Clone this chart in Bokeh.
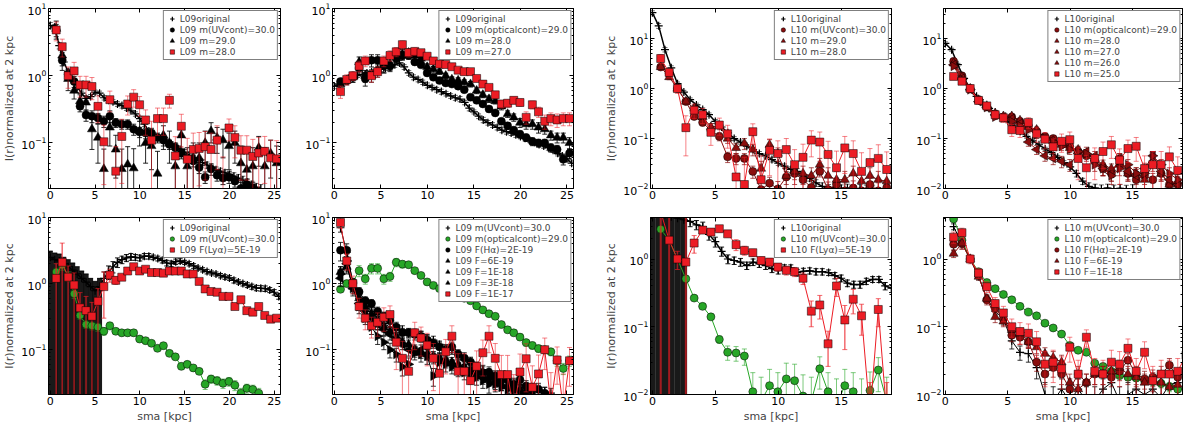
import numpy as np
from bokeh.layouts import column, row
from bokeh.models import Range1d, FixedTicker, LinearAxis, LogAxis, Legend, LegendItem
from bokeh.plotting import figure
from bokeh.embed import file_html
from bokeh.resources import INLINE

# radii of the binned profiles [kpc]
R = [0.66, 1.33, 1.99, 2.66, 3.32, 3.99, 4.65, 5.32, 5.98, 6.65, 7.31, 7.98, 8.64, 9.31,
     9.97, 10.64, 11.3, 11.97, 12.63, 13.3, 13.96, 14.63, 15.29, 15.96, 16.62, 17.29,
     17.95, 18.62, 19.28, 19.95, 20.61, 21.28, 21.94, 22.61, 23.27, 23.94, 24.6, 25.27]
# radii of the "original" profiles [kpc]
RO = [0.0, 0.5, 1.0, 1.5, 2.0, 2.5, 3.0, 3.5, 4.0, 4.5, 5.0, 5.5, 6.0, 6.5, 7.0, 7.5, 8.0,
      8.5, 9.0, 9.5, 10.0, 10.5, 11.0, 11.5, 12.0, 12.5, 13.0, 13.5, 14.0, 14.5, 15.0, 15.5,
      16.0, 16.5, 17.0, 17.5, 18.0, 18.5, 19.0, 19.5, 20.0, 20.5, 21.0, 21.5, 22.0, 22.5,
      23.0, 23.5, 24.0, 24.5, 25.0, 25.5]

# ---- L09, UV continuum
L09_UV_orig = [5.6, 5.3, 2.8, 1.6, 1.15, 0.88, 0.68, 0.55, 0.46, 0.49, 0.57, 0.55, 0.47, 0.43,
               0.41, 0.38, 0.36, 0.33, 0.3, 0.27, 0.23, 0.19, 0.15, 0.13, 0.12, 0.115, 0.105,
               0.097, 0.09, 0.08, 0.073, 0.066, 0.06, 0.055, 0.051, 0.047, 0.043, 0.04, 0.038,
               0.036, 0.034, 0.032, 0.03, 0.028, 0.026, 0.024, 0.022, 0.021]
L09_UV_orig_err = [0.6, 0.5, 0.3, 0.15, 0.1, 0.07, 0.05, 0.04, 0.035, 0.035, 0.04, 0.04, 0.035,
                   0.03, 0.03, 0.03, 0.03, 0.025, 0.02, 0.02, 0.02, 0.015, 0.012, 0.01, 0.01,
                   0.01, 0.009, 0.008, 0.008, 0.007, 0.007, 0.006, 0.006, 0.005, 0.005, 0.005,
                   0.004, 0.004, 0.004, 0.004, 0.004, 0.004, 0.004, 0.004, 0.003, 0.003, 0.003,
                   0.003]
L09_UV_m30 = [4.8, 1.7, 1.05, 0.82, 0.35, 0.26, 0.25, 0.235, 0.21, 0.25, 0.2, 0.19, 0.19, 0.16,
              0.145, 0.14, 0.14, 0.12, 0.11, 0.095, 0.085, 0.07, 0.057, 0.054, 0.043, 0.031,
              0.041, 0.033, 0.03, 0.031, 0.027, 0.021, 0.024, 0.021]
L09_UV_m30_err = [1.0, 0.5, 0.2, 0.15, 0.06, 0.05, 0.05, 0.04, 0.04, 0.05, 0.03, 0.03, 0.03,
                  0.03, 0.025, 0.025, 0.025, 0.02, 0.02, 0.015, 0.015, 0.012, 0.01, 0.01, 0.008,
                  0.006, 0.008, 0.006, 0.006, 0.006, 0.005, 0.005, 0.005, 0.005]
L09_UV_m29 = [5.0, 2.0, 0.9, 0.6, 0.42, 0.4, 0.16, 0.12, 0.041, 0.17, 0.08, 0.041, 0.048, 0.042,
              0.15, 0.1, 0.09, 0.035, 0.13, 0.1, 0.045, 0.13, 0.045, 0.06, 0.06, 0.1, 0.15,
              0.12, 0.11, 0.09, 0.1, 0.05, 0.04, 0.045, 0.085, 0.045, 0.07, 0.05]
L09_UV_m29_err = [1.5, 0.6, 0.3, 0.15, 0.1, 0.1, 0.08, 0.07, 0.04, 0.08, 0.05, 0.04, 0.04, 0.04,
                  0.06, 0.05, 0.05, 0.04, 0.05, 0.05, 0.04, 0.05, 0.04, 0.04, 0.04, 0.05, 0.05,
                  0.05, 0.05, 0.05, 0.05, 0.04, 0.04, 0.04, 0.04, 0.04, 0.04, 0.04]
L09_UV_m28 = [4.8, 2.7, 1.0, 1.18, 0.73, 0.73, 0.69, 0.35, 0.104, 0.44, 0.038, 0.125, 0.38,
              0.48, 0.37, 0.22, 0.11, 0.23, 0.23, 0.43, 0.064, 0.177, 0.057, 0.08, 0.083, 0.088,
              0.08, 0.11, 0.012, 0.167, 0.12, 0.078, 0.078, 0.063, 0.071, 0.075, 0.06, 0.058]
L09_UV_m28_err = [1.5, 0.8, 0.35, 0.4, 0.25, 0.25, 0.25, 0.15, 0.08, 0.15, 0.05, 0.1, 0.12, 0.14,
                  0.12, 0.09, 0.1, 0.1, 0.1, 0.1, 0.06, 0.09, 0.06, 0.06, 0.06, 0.06, 0.06, 0.07,
                  0.05, 0.06, 0.06, 0.05, 0.05, 0.05, 0.05, 0.05, 0.05, 0.05]

# ---- L09, optical continuum
L09_OPT_orig = [0.7, 0.75, 0.85, 0.92, 1.0, 1.02, 1.05, 1.1, 1.15, 1.2, 1.25, 1.3, 1.35, 1.45,
                1.55, 1.35, 1.1, 0.95, 0.88, 0.8, 0.72, 0.67, 0.62, 0.58, 0.54, 0.5, 0.47, 0.45,
                0.4, 0.33, 0.29, 0.25, 0.22, 0.2, 0.185, 0.17, 0.155, 0.147, 0.14, 0.132, 0.125,
                0.117, 0.11, 0.102, 0.095, 0.09, 0.085, 0.078, 0.07, 0.064, 0.058, 0.05]
L09_OPT_orig_err = [0.06, 0.06, 0.07, 0.07, 0.08, 0.08, 0.08, 0.09, 0.09, 0.1, 0.1, 0.1, 0.11,
                    0.12, 0.13, 0.11, 0.09, 0.08, 0.07, 0.06, 0.06, 0.05, 0.05, 0.05, 0.04, 0.04,
                    0.04, 0.04, 0.03, 0.03, 0.02, 0.02, 0.02, 0.016, 0.015, 0.014, 0.013, 0.012,
                    0.011, 0.011, 0.01, 0.01, 0.009, 0.008, 0.008, 0.007, 0.007, 0.006, 0.006,
                    0.005, 0.005, 0.004]
L09_OPT_m29 = [0.82, 0.85, 0.95, 1.3, 0.9, 1.7, 1.7, 1.4, 1.4, 1.8, 2.0, 2.0, 1.6, 1.45, 1.1,
               0.95, 0.85, 0.78, 0.75, 0.7, 0.62, 0.48, 0.43, 0.38, 0.32, 0.28, 0.21, 0.18, 0.155,
               0.135, 0.12, 0.105, 0.1, 0.1, 0.085, 0.08, 0.057, 0.07]
L09_OPT_m29_err = [0.08, 0.1, 0.15, 0.3, 0.2, 0.35, 0.35, 0.3, 0.25, 0.3, 0.3, 0.25, 0.15, 0.12,
                   0.1, 0.08, 0.07, 0.06, 0.06, 0.05, 0.05, 0.04, 0.04, 0.03, 0.03, 0.025, 0.02,
                   0.02, 0.018, 0.016, 0.015, 0.014, 0.013, 0.013, 0.012, 0.012, 0.01, 0.012]
L09_OPT_m28 = [0.75, 0.85, 0.95, 1.6, 1.0, 1.0, 1.2, 1.4, 1.5, 2.0, 2.1, 2.2, 2.0, 1.8, 1.35,
               1.25, 1.15, 1.0, 0.88, 0.85, 0.8, 0.75, 0.6, 0.52, 0.45, 0.42, 0.35, 0.27, 0.24,
               0.2, 0.19, 0.19, 0.17, 0.16, 0.13, 0.12, 0.12, 0.1]
L09_OPT_m28_err = [0.1, 0.12, 0.15, 0.3, 0.2, 0.2, 0.25, 0.3, 0.3, 0.35, 0.35, 0.3, 0.25, 0.2,
                   0.15, 0.12, 0.1, 0.09, 0.08, 0.08, 0.07, 0.07, 0.06, 0.05, 0.05, 0.04, 0.04,
                   0.03, 0.03, 0.03, 0.03, 0.03, 0.03, 0.025, 0.02, 0.02, 0.02, 0.02]
L09_OPT_m27 = [0.58, 0.88, 1.0, 1.39, 1.66, 1.0, 1.15, 1.66, 2.0, 2.27, 2.9, 2.2, 2.3, 2.2, 1.95,
               1.66, 1.49, 1.47, 1.36, 1.21, 1.15, 1.15, 0.91, 0.75, 0.67, 0.52, 0.38, 0.39,
               0.43, 0.4, 0.24, 0.37, 0.29, 0.21, 0.23, 0.22, 0.23, 0.23]
L09_OPT_m27_err = [0.12, 0.15, 0.15, 0.25, 0.3, 0.2, 0.2, 0.3, 0.35, 0.35, 0.4, 0.3, 0.3, 0.25,
                   0.22, 0.18, 0.15, 0.13, 0.12, 0.1, 0.1, 0.1, 0.08, 0.07, 0.06, 0.06, 0.05,
                   0.05, 0.05, 0.05, 0.05, 0.05, 0.05, 0.05, 0.05, 0.05, 0.05, 0.05]

# ---- L10, UV continuum
L10_UV_orig = [33.0, 18.0, 6.0, 2.6, 1.25, 0.85, 0.6, 0.47, 0.38, 0.3, 0.22, 0.17, 0.13, 0.1,
               0.085, 0.07, 0.06, 0.05, 0.045, 0.038, 0.032, 0.028, 0.024, 0.022, 0.018, 0.016,
               0.013, 0.011, 0.01, 0.0105, 0.0098, 0.0102, 0.0095, 0.01, 0.0097, 0.0093]
L10_UV_orig_err = [3.0, 2.0, 0.6, 0.25, 0.1, 0.07, 0.05, 0.04, 0.03, 0.025, 0.02, 0.015, 0.012,
                   0.009, 0.008, 0.006, 0.005, 0.005, 0.004, 0.004, 0.003, 0.003, 0.003, 0.003,
                   0.002, 0.002, 0.002, 0.002, 0.002, 0.002, 0.002, 0.002, 0.002, 0.002, 0.002,
                   0.002]
L10_UV_m30 = [2.7, 2.0, 1.0, 0.55, 0.276, 0.21, 0.144, 0.11, 0.043, 0.04, 0.04, 0.022, 0.0095,
              0.0128, 0.0098, 0.017, 0.02, 0.015, 0.0105, 0.022, 0.0095, 0.012, 0.009, 0.0102,
              0.009, 0.012, 0.009, 0.0105]
L10_UV_m30_err = [0.3, 0.2, 0.1, 0.06, 0.03, 0.03, 0.02, 0.02, 0.01, 0.01, 0.01, 0.006, 0.004,
                  0.004, 0.004, 0.005, 0.005, 0.005, 0.004, 0.005, 0.004, 0.004, 0.004, 0.004,
                  0.004, 0.004, 0.004, 0.004]
L10_UV_m29 = [2.7, 1.7, 1.0, 0.55, 0.4, 0.27, 0.17, 0.18, 0.1, 0.065, 0.08, 0.06, 0.025, 0.075,
              0.05, 0.018, 0.022, 0.02, 0.018, 0.03, 0.018, 0.015, 0.015, 0.02, 0.014, 0.018,
              0.015, 0.014]
L10_UV_m29_err = [0.3, 0.2, 0.1, 0.07, 0.05, 0.04, 0.03, 0.03, 0.02, 0.015, 0.02, 0.015, 0.01,
                  0.02, 0.015, 0.008, 0.01, 0.008, 0.008, 0.01, 0.008, 0.007, 0.007, 0.008,
                  0.007, 0.008, 0.007, 0.007]
L10_UV_m28 = [4.0, 2.1, 1.0, 0.165, 0.37, 0.3, 0.133, 0.186, 0.124, 0.017, 0.012, 0.137, 0.015,
              0.058, 0.05, 0.06, 0.03, 0.042, 0.093, 0.085, 0.048, 0.026, 0.065, 0.05, 0.022,
              0.033, 0.04, 0.024]
L10_UV_m28_err = [0.8, 0.4, 0.2, 0.12, 0.12, 0.1, 0.06, 0.07, 0.06, 0.03, 0.03, 0.06, 0.03, 0.04,
                  0.04, 0.04, 0.03, 0.035, 0.05, 0.05, 0.04, 0.03, 0.045, 0.04, 0.03, 0.03,
                  0.035, 0.03]

# ---- L10, optical continuum
L10_OPT_orig = [8.0, 6.0, 3.0, 1.6, 1.0, 0.7, 0.5, 0.4, 0.33, 0.27, 0.22, 0.18, 0.14, 0.11,
                0.09, 0.075, 0.062, 0.052, 0.042, 0.033, 0.027, 0.02, 0.014, 0.011, 0.0102,
                0.0098, 0.0102, 0.0097, 0.0101, 0.0096, 0.0099]
L10_OPT_orig_err = [0.6, 0.4, 0.2, 0.1, 0.06, 0.04, 0.03, 0.025, 0.02, 0.017, 0.014, 0.012,
                    0.01, 0.008, 0.007, 0.006, 0.005, 0.004, 0.004, 0.003, 0.003, 0.003, 0.002,
                    0.002, 0.002, 0.002, 0.002, 0.002, 0.002, 0.002, 0.002]
L10_OPT_m29 = [3.5, 1.8, 1.0, 0.6, 0.43, 0.3, 0.27, 0.27, 0.22, 0.18, 0.14, 0.11, 0.1, 0.08,
               0.07, 0.055, 0.045, 0.035, 0.025, 0.02, 0.04, 0.02, 0.015, 0.018, 0.015, 0.02,
               0.012, 0.012]
L10_OPT_m29_err = [0.3, 0.15, 0.08, 0.05, 0.04, 0.03, 0.03, 0.03, 0.025, 0.02, 0.02, 0.015,
                   0.015, 0.012, 0.012, 0.01, 0.01, 0.008, 0.007, 0.006, 0.01, 0.006, 0.005,
                   0.006, 0.005, 0.006, 0.005, 0.005]
L10_OPT_m28 = [3.2, 1.7, 1.0, 0.58, 0.45, 0.32, 0.28, 0.28, 0.23, 0.17, 0.15, 0.1, 0.09, 0.075,
               0.065, 0.06, 0.05, 0.04, 0.03, 0.025, 0.03, 0.02, 0.02, 0.015, 0.03, 0.02, 0.012,
               0.014]
L10_OPT_m28_err = [0.3, 0.15, 0.08, 0.05, 0.04, 0.03, 0.03, 0.03, 0.025, 0.02, 0.02, 0.015,
                   0.015, 0.012, 0.012, 0.01, 0.01, 0.008, 0.007, 0.006, 0.008, 0.006, 0.006,
                   0.005, 0.008, 0.006, 0.005, 0.005]
L10_OPT_m27 = [3.0, 1.6, 0.95, 0.55, 0.42, 0.3, 0.27, 0.25, 0.2, 0.085, 0.06, 0.045, 0.04,
               0.035, 0.03, 0.05, 0.055, 0.045, 0.025, 0.02, 0.04, 0.022, 0.018, 0.025, 0.045,
               0.022, 0.015, 0.012]
L10_OPT_m27_err = [0.3, 0.15, 0.08, 0.05, 0.04, 0.03, 0.03, 0.03, 0.025, 0.015, 0.012, 0.01,
                   0.01, 0.009, 0.008, 0.01, 0.012, 0.01, 0.007, 0.006, 0.01, 0.007, 0.006,
                   0.007, 0.01, 0.007, 0.005, 0.005]
L10_OPT_m26 = [2.8, 1.5, 0.95, 0.6, 0.42, 0.27, 0.26, 0.22, 0.18, 0.15, 0.12, 0.1, 0.085, 0.07,
               0.06, 0.055, 0.05, 0.03, 0.025, 0.018, 0.025, 0.03, 0.02, 0.02, 0.045, 0.03,
               0.02, 0.015]
L10_OPT_m26_err = [0.3, 0.15, 0.08, 0.05, 0.04, 0.03, 0.03, 0.03, 0.025, 0.02, 0.02, 0.015,
                   0.015, 0.012, 0.012, 0.01, 0.01, 0.008, 0.007, 0.006, 0.007, 0.008, 0.006,
                   0.006, 0.01, 0.008, 0.006, 0.005]
L10_OPT_m25 = [1.75, 1.4, 1.0, 0.58, 0.45, 0.3, 0.26, 0.15, 0.145, 0.21, 0.124, 0.097, 0.068,
               0.088, 0.095, 0.04, 0.026, 0.04, 0.055, 0.075, 0.037, 0.063, 0.07, 0.025, 0.03,
               0.03, 0.043, 0.023]
L10_OPT_m25_err = [0.2, 0.15, 0.1, 0.08, 0.06, 0.05, 0.05, 0.04, 0.04, 0.05, 0.04, 0.035, 0.03,
                   0.035, 0.04, 0.025, 0.02, 0.025, 0.03, 0.035, 0.025, 0.03, 0.035, 0.02, 0.025,
                   0.025, 0.025, 0.02]

# ---- L09, Lyman alpha
L09_LYA_orig = [2.5, 2.3, 2.2, 2.0, 1.8, 1.6, 1.4, 1.2, 1.05, 0.9, 0.78, 0.9, 1.2, 1.5, 1.8,
                2.1, 2.3, 2.45, 2.55, 2.5, 2.45, 2.6, 2.6, 2.5, 2.4, 2.25, 2.05, 2.0, 2.15, 2.2,
                2.1, 2.0, 1.85, 1.72, 1.62, 1.52, 1.45, 1.4, 1.32, 1.26, 1.22, 1.12, 1.06, 1.0,
                0.95, 0.9, 0.86, 0.85, 0.84, 0.8, 0.74, 0.64]
L09_LYA_orig_err = [0.6, 0.6, 0.6, 0.5, 0.5, 0.45, 0.4, 0.35, 0.35, 0.3, 0.3, 0.3, 0.3, 0.35,
                    0.35, 0.35, 0.3, 0.3, 0.3, 0.25, 0.25, 0.25, 0.25, 0.2, 0.2, 0.2, 0.2, 0.2,
                    0.2, 0.18, 0.15, 0.15, 0.15, 0.12, 0.12, 0.12, 0.1, 0.1, 0.1, 0.1, 0.1, 0.1,
                    0.08, 0.08, 0.08, 0.08, 0.08, 0.08, 0.08, 0.07, 0.07, 0.06]
L09_LYA_orig_err_lo = [9.9, 9.9, 9.9, 9.9, 9.9, 9.9, 9.9, 9.9, 9.9, 9.9, 9.9, 9.9, 0.3, 0.35,
                       0.35, 0.35, 0.3, 0.3, 0.3, 0.25, 0.25, 0.25, 0.25, 0.2, 0.2, 0.2, 0.2,
                       0.2, 0.2, 0.18, 0.15, 0.15, 0.15, 0.12, 0.12, 0.12, 0.1, 0.1, 0.1, 0.1,
                       0.1, 0.1, 0.08, 0.08, 0.08, 0.08, 0.08, 0.08, 0.08, 0.07, 0.07, 0.06]
L09_LYA_m30 = [1.5, 1.9, 1.3, 0.7, 0.33, 0.24, 0.23, 0.22, 0.19, 0.23, 0.19, 0.18, 0.18, 0.18,
               0.145, 0.137, 0.125, 0.105, 0.115, 0.088, 0.078, 0.056, 0.06, 0.053, 0.047, 0.03,
               0.036, 0.034, 0.031, 0.033, 0.029, 0.022, 0.026, 0.025, 0.022]
L09_LYA_m30_err = [0.2, 0.3, 0.2, 0.1, 0.04, 0.03, 0.03, 0.03, 0.025, 0.03, 0.02, 0.02, 0.02,
                   0.02, 0.015, 0.015, 0.012, 0.01, 0.012, 0.008, 0.008, 0.006, 0.006, 0.006,
                   0.005, 0.005, 0.005, 0.005, 0.005, 0.005, 0.005, 0.004, 0.004, 0.004, 0.004]
L09_LYA_f = [1.2, 2.1, 1.25, 0.95, 0.43, 0.39, 0.32, 0.54, 0.9, 1.35, 1.12, 1.25, 1.55, 1.8,
             1.55, 1.65, 1.47, 1.47, 1.44, 1.55, 1.55, 1.55, 1.4, 1.4, 1.08, 0.83, 0.76, 0.74,
             0.64, 0.64, 0.45, 0.57, 0.39, 0.37, 0.45, 0.33, 0.29, 0.3]
L09_LYA_f_err = [0.8, 2.0, 0.6, 0.5, 0.3, 0.25, 0.2, 0.3, 0.6, 0.3, 0.15, 0.1, 0.1, 0.1, 0.08,
                 0.08, 0.07, 0.07, 0.07, 0.07, 0.07, 0.07, 0.06, 0.06, 0.05, 0.04, 0.04, 0.03,
                 0.03, 0.03, 0.03, 0.03, 0.02, 0.02, 0.02, 0.02, 0.02, 0.02]
L09_LYA_f_err_lo = [9.9, 9.9, 9.9, 9.9, 9.9, 9.9, 9.9, 9.9, 0.6, 0.3, 0.15, 0.1, 0.1, 0.1, 0.08,
                    0.08, 0.07, 0.07, 0.07, 0.07, 0.07, 0.07, 0.06, 0.06, 0.05, 0.04, 0.04, 0.03,
                    0.03, 0.03, 0.03, 0.03, 0.02, 0.02, 0.02, 0.02, 0.02, 0.02]

# ---- L09, H alpha
L09_HA_uv30 = [7.0, 3.0, 1.0, 0.6, 0.45, 0.38, 0.3, 0.25, 0.22, 0.2, 0.2, 0.18, 0.18, 0.17, 0.15,
               0.14, 0.12, 0.1, 0.1, 0.085, 0.07, 0.065, 0.055, 0.05, 0.045, 0.04, 0.035, 0.035,
               0.03, 0.03, 0.027, 0.025, 0.025, 0.023, 0.022]
L09_HA_uv30_err = [1.0, 0.5, 0.15, 0.08, 0.06, 0.05, 0.04, 0.035, 0.03, 0.03, 0.03, 0.025, 0.025,
                   0.02, 0.02, 0.02, 0.015, 0.015, 0.015, 0.012, 0.01, 0.01, 0.008, 0.008,
                   0.007, 0.006, 0.006, 0.006, 0.005, 0.005, 0.005, 0.005, 0.004, 0.004, 0.004]
L09_HA_opt29 = [0.82, 1.0, 1.05, 1.57, 1.18, 1.7, 1.7, 1.18, 1.28, 2.1, 1.97, 1.93, 1.57, 1.33,
                1.06, 0.94, 0.84, 0.78, 0.71, 0.65, 0.6, 0.55, 0.46, 0.4, 0.35, 0.32, 0.24, 0.2,
                0.18, 0.155, 0.128, 0.116, 0.104, 0.1, 0.093, 0.068, 0.052, 0.068]
L09_HA_opt29_err = [0.08, 0.1, 0.12, 0.3, 0.2, 0.3, 0.3, 0.2, 0.2, 0.3, 0.25, 0.2, 0.15, 0.12,
                    0.1, 0.08, 0.07, 0.06, 0.06, 0.05, 0.05, 0.04, 0.04, 0.03, 0.03, 0.025, 0.02,
                    0.02, 0.018, 0.016, 0.015, 0.014, 0.013, 0.013, 0.012, 0.012, 0.01, 0.012]
L09_HA_f2 = [3.2, 3.2, 1.0, 0.75, 0.55, 0.5, 0.38, 0.32, 0.28, 0.22, 0.18, 0.18, 0.17, 0.16,
             0.14, 0.125, 0.11, 0.1, 0.11, 0.085, 0.075, 0.065, 0.055, 0.045, 0.045, 0.04, 0.035,
             0.035, 0.03, 0.035, 0.028, 0.025, 0.025, 0.022]
L09_HA_f2_err = [1.0, 0.8, 0.2, 0.12, 0.08, 0.07, 0.06, 0.05, 0.04, 0.04, 0.03, 0.03, 0.03,
                 0.03, 0.025, 0.02, 0.02, 0.02, 0.02, 0.015, 0.015, 0.012, 0.01, 0.01, 0.01,
                 0.008, 0.008, 0.008, 0.007, 0.007, 0.006, 0.006, 0.006, 0.005]
L09_HA_f6 = [1.5, 1.8, 0.9, 0.6, 0.45, 0.35, 0.28, 0.22, 0.19, 0.16, 0.13, 0.12, 0.1, 0.09,
             0.085, 0.08, 0.075, 0.07, 0.065, 0.06, 0.055, 0.05, 0.045, 0.04, 0.038, 0.034,
             0.03, 0.028, 0.027, 0.025, 0.024, 0.022]
L09_HA_f6_err = [0.3, 0.4, 0.15, 0.1, 0.07, 0.05, 0.04, 0.035, 0.03, 0.025, 0.02, 0.02, 0.018,
                 0.016, 0.015, 0.014, 0.013, 0.012, 0.011, 0.01, 0.01, 0.009, 0.008, 0.008,
                 0.007, 0.007, 0.006, 0.006, 0.006, 0.005, 0.005, 0.005]
L09_HA_f10 = [1.2, 2.0, 0.85, 0.5, 0.38, 0.3, 0.24, 0.2, 0.17, 0.14, 0.12, 0.1, 0.095, 0.1,
              0.085, 0.075, 0.07, 0.065, 0.06, 0.055, 0.05, 0.045, 0.042, 0.038, 0.035, 0.032,
              0.03, 0.028, 0.025, 0.024, 0.022]
L09_HA_f10_err = [0.3, 0.5, 0.15, 0.1, 0.07, 0.05, 0.04, 0.035, 0.03, 0.025, 0.02, 0.02, 0.018,
                  0.018, 0.015, 0.014, 0.013, 0.012, 0.011, 0.01, 0.01, 0.009, 0.008, 0.008,
                  0.007, 0.007, 0.006, 0.006, 0.006, 0.005, 0.005]
L09_HA_f30 = [1.4, 2.2, 0.85, 0.45, 0.3, 0.22, 0.16, 0.13, 0.1, 0.085, 0.055, 0.06, 0.09, 0.085,
              0.08, 0.04, 0.065, 0.06, 0.055, 0.05, 0.045, 0.04, 0.038, 0.034, 0.03, 0.03,
              0.027, 0.025, 0.024, 0.023]
L09_HA_f30_err = [0.4, 0.6, 0.2, 0.1, 0.06, 0.05, 0.04, 0.03, 0.025, 0.02, 0.015, 0.015, 0.02,
                  0.02, 0.02, 0.012, 0.015, 0.014, 0.012, 0.011, 0.01, 0.01, 0.009, 0.008,
                  0.008, 0.007, 0.007, 0.006, 0.006, 0.006]
L09_HA_f100 = [8.4, 2.2, 1.0, 0.45, 0.3, 0.23, 0.26, 0.31, 0.34, 0.13, 0.074, 0.047, 0.18, 0.15,
               0.117, 0.074, 0.044, 0.093, 0.16, 0.047, 0.047, 0.034, 0.056, 0.09, 0.16, 0.074,
               0.042, 0.042, 0.012, 0.046, 0.073, 0.027, 0.043, 0.1, 0.015, 0.07, 0.013, 0.068]
L09_HA_f100_err = [1.5, 0.6, 0.3, 0.15, 0.1, 0.08, 0.1, 0.12, 0.12, 0.08, 0.06, 0.05, 0.08,
                   0.07, 0.06, 0.05, 0.04, 0.05, 0.07, 0.04, 0.04, 0.03, 0.04, 0.05, 0.07, 0.05,
                   0.04, 0.04, 0.03, 0.04, 0.05, 0.03, 0.04, 0.05, 0.03, 0.04, 0.03, 0.04]

# ---- L10, Lyman alpha
L10_LYA_orig = [6.0, 5.0, 4.5, 4.2, 4.0, 3.8, 3.6, 3.2, 3.0, 2.3, 1.8, 1.3, 1.0, 0.95, 0.9, 0.8,
                0.9, 0.85, 0.8, 0.72, 0.68, 0.74, 0.74, 0.63, 0.66, 0.67, 0.65, 0.65, 0.63,
                0.57, 0.52, 0.44, 0.42, 0.42, 0.47, 0.5, 0.5, 0.4, 0.37]
L10_LYA_orig_err = [20.0, 20.0, 20.0, 20.0, 20.0, 20.0, 0.6, 0.5, 0.5, 0.4, 0.3, 0.2, 0.15,
                    0.12, 0.12, 0.1, 0.1, 0.1, 0.1, 0.09, 0.08, 0.08, 0.08, 0.07, 0.07, 0.07,
                    0.07, 0.07, 0.06, 0.06, 0.06, 0.05, 0.05, 0.05, 0.05, 0.05, 0.05, 0.05, 0.05]
L10_LYA_m30 = [2.76, 1.9, 1.0, 0.51, 0.265, 0.2, 0.14, 0.065, 0.042, 0.041, 0.037, 0.011, 0.008,
               0.0135, 0.011, 0.017, 0.016, 0.0095, 0.008, 0.024, 0.011, 0.007, 0.0135, 0.011,
               0.007, 0.0115, 0.023, 0.008]
L10_LYA_m30_err = [0.2, 0.15, 0.08, 0.04, 0.02, 0.015, 0.012, 0.008, 0.01, 0.01, 0.01, 0.01,
                   0.01, 0.01, 0.01, 0.012, 0.012, 0.01, 0.01, 0.012, 0.01, 0.01, 0.01, 0.01,
                   0.01, 0.01, 0.012, 0.01]
L10_LYA_f = [5.0, 1.9, 1.0, 0.9, 1.72, 2.67, 2.5, 2.8, 2.35, 1.63, 1.34, 1.24, 0.95, 0.9, 0.76,
             0.68, 0.65, 0.52, 0.17, 0.21, 0.056, 0.4, 0.126, 0.255, 0.145, 0.005, 0.18, 0.005]
L10_LYA_f_err = [20.0, 20.0, 0.3, 20.0, 0.5, 0.3, 0.3, 0.3, 0.25, 0.3, 0.2, 0.15, 0.12, 0.12,
                 0.1, 0.1, 0.1, 0.1, 0.07, 0.08, 0.03, 0.12, 0.08, 0.1, 0.07, 0.01, 0.08, 0.01]

# ---- L10, H alpha
L10_HA_uv30 = [3.0, 1.7, 1.0, 0.55, 0.26, 0.17, 0.13, 0.062, 0.042, 0.04, 0.025, 0.01, 0.008,
               0.012, 0.008, 0.012, 0.008, 0.008, 0.012, 0.015, 0.008, 0.01, 0.012, 0.01, 0.012,
               0.009, 0.014, 0.015]
L10_HA_uv30_err = [0.3, 0.2, 0.1, 0.06, 0.03, 0.02, 0.02, 0.015, 0.01, 0.01, 0.008, 0.005,
                   0.005, 0.005, 0.005, 0.005, 0.005, 0.005, 0.005, 0.005, 0.005, 0.005, 0.005,
                   0.005, 0.005, 0.005, 0.005, 0.005]
L10_HA_opt29 = [3.9, 1.9, 1.0, 0.65, 0.45, 0.365, 0.3, 0.25, 0.2, 0.165, 0.145, 0.113, 0.096,
                0.078, 0.053, 0.045, 0.042, 0.029, 0.026, 0.022, 0.019, 0.018, 0.0175, 0.016,
                0.0155, 0.0145, 0.013, 0.012, 0.012]
L10_HA_opt29_err = [0.2, 0.1, 0.05, 0.03, 0.02, 0.015, 0.012, 0.01, 0.008, 0.007, 0.006, 0.005,
                    0.004, 0.004, 0.003, 0.003, 0.003, 0.002, 0.002, 0.002, 0.002, 0.002, 0.002,
                    0.002, 0.002, 0.002, 0.002, 0.002, 0.002]
L10_HA_f2 = [1.65, 1.7, 1.0, 0.58, 0.25, 0.19, 0.13, 0.075, 0.07, 0.06, 0.03, 0.02, 0.025, 0.02,
             0.012, 0.02, 0.015, 0.02, 0.02, 0.018, 0.022, 0.032, 0.02, 0.017, 0.018, 0.02,
             0.027, 0.018]
L10_HA_f2_err = [0.3, 0.3, 0.1, 0.06, 0.04, 0.03, 0.025, 0.015, 0.015, 0.012, 0.008, 0.006,
                 0.007, 0.006, 0.005, 0.006, 0.005, 0.006, 0.006, 0.005, 0.006, 0.008, 0.006,
                 0.005, 0.005, 0.006, 0.007, 0.005]
L10_HA_f6 = [1.2, 1.7, 1.0, 0.55, 0.26, 0.14, 0.12, 0.09, 0.08, 0.06, 0.05, 0.04, 0.035, 0.03,
             0.015, 0.012, 0.015, 0.02, 0.02, 0.022, 0.025, 0.02, 0.018, 0.015, 0.016, 0.015,
             0.013, 0.014]
L10_HA_f6_err = [0.15, 0.3, 0.1, 0.06, 0.04, 0.025, 0.02, 0.015, 0.015, 0.012, 0.01, 0.009,
                 0.008, 0.008, 0.005, 0.005, 0.005, 0.006, 0.006, 0.006, 0.007, 0.006, 0.005,
                 0.005, 0.005, 0.005, 0.005, 0.005]
L10_HA_f10 = [2.1, 2.45, 1.0, 0.62, 0.39, 0.22, 0.16, 0.1, 0.085, 0.08, 0.06, 0.028, 0.03,
              0.024, 0.05, 0.02, 0.07, 0.022, 0.02, 0.03, 0.028, 0.048, 0.022, 0.042, 0.016,
              0.02, 0.02, 0.022, 0.038]
L10_HA_f10_err = [0.4, 0.4, 0.15, 0.1, 0.07, 0.05, 0.04, 0.03, 0.03, 0.03, 0.025, 0.015, 0.015,
                  0.012, 0.02, 0.012, 0.02, 0.012, 0.012, 0.015, 0.015, 0.018, 0.012, 0.018,
                  0.01, 0.012, 0.012, 0.012, 0.015]

BLACK = "black"
RED = "#ec1c24"
DRED = "#8a0d0d"
GREEN = "#27a627"
FONT = "DejaVu Sans"
MINOR = [m * 10.0 ** e for e in range(-3, 2) for m in range(2, 10)]


def make_fig(w, h, borders, xr, yr, xticks, ylabel=None, xlabel=None):
    l, r, t, b = borders
    p = figure(width=w, height=h, y_axis_type="log", x_range=Range1d(*xr),
               y_range=Range1d(*yr), output_backend="svg", toolbar_location=None,
               min_border_left=l, min_border_right=r, min_border_top=t, min_border_bottom=b)
    yt = FixedTicker(ticks=[0.001, 0.01, 0.1, 1, 10, 100], minor_ticks=MINOR)
    xt = FixedTicker(ticks=xticks)
    p.yaxis.ticker = yt
    p.xaxis.ticker = xt
    p.add_layout(LinearAxis(ticker=xt), "above")
    p.add_layout(LogAxis(ticker=yt), "right")
    p.xgrid.grid_line_color = None
    p.ygrid.grid_line_color = None
    p.outline_line_color = "black"
    p.background_fill_color = "white"
    p.border_fill_color = "white"
    for ax in p.axis:
        ax.axis_line_color = "black"
        ax.major_tick_in = 4
        ax.major_tick_out = 0
        ax.minor_tick_in = 2
        ax.minor_tick_out = 0
        ax.major_label_text_font = FONT
        ax.major_label_text_font_size = "11px"
        ax.major_label_text_color = "black"
        ax.major_label_standoff = 2
        ax.axis_label_text_font = FONT
        ax.axis_label_text_font_size = "11px"
        ax.axis_label_text_font_style = "normal"
        ax.axis_label_standoff = 2
    for ax in p.above + p.below:
        ax.minor_tick_line_color = None
    for ax in p.above + p.right:
        ax.major_label_text_font_size = "1px"
        ax.major_label_text_alpha = 0
        ax.major_label_standoff = 0
    if ylabel:
        p.left[0].axis_label = ylabel
    if xlabel:
        p.below[0].axis_label = xlabel
    return p


def series(p, xs, ys, err, marker, color, ecolor, ealpha, size=8, joined=True,
           angle=0.0, err_lo=None, wide=None, lw=1.0):
    x = xs[:len(ys)]
    y = np.asarray(ys, dtype=float)
    e_hi = np.asarray(err, dtype=float)
    e_lo = e_hi if err_lo is None else np.asarray(err_lo, dtype=float)
    lo = np.clip(y - e_lo, 1e-6, None)
    hi = y + e_hi
    # bars that run off the bottom of the panel are drawn broad, like the dense originals
    ew = 1.0 if wide is None else list(np.where(y - e_lo <= 0, wide, 1.5))
    p.segment(x, lo, x, hi, line_color=ecolor, line_alpha=ealpha, line_width=ew)
    p.scatter(x, hi, marker="dash", size=5, line_color=ecolor, line_alpha=ealpha)
    p.scatter(x, lo, marker="dash", size=5, line_color=ecolor, line_alpha=ealpha)
    if joined:
        p.line(x, ys, line_color=color, line_width=lw)
    if marker == "cross":
        m = p.scatter(x, ys, marker="cross", size=size, line_color=color, line_width=1.2)
    else:
        m = p.scatter(x, ys, marker=marker, size=size, angle=angle, fill_color=color,
                      line_color="black", line_width=0.5)
    return [m]


def add_legend(p, items):
    lg = Legend(items=[LegendItem(label=t, renderers=r) for t, r in items],
                location="top_right", label_text_font=FONT, label_text_font_size="9px",
                label_height=9, glyph_height=11, glyph_width=12, spacing=0, padding=2,
                margin=2, label_standoff=2, border_line_color="black",
                border_line_width=1.2, background_fill_color="white",
                background_fill_alpha=1.0)
    p.add_layout(lg)


YLAB = "I(r)normalized at 2 kpc"
XLAB = "sma [kpc]"
X25 = [0, 5, 10, 15, 20, 25]
X19 = [0, 5, 10, 15]
XR25 = (-0.2, 25.7)
XR19 = (-0.15, 19.0)
LEFT = np.pi / 2
RIGHT = -np.pi / 2

# column widths / borders (left, right), row heights / borders (top, bottom)
C = [(302, 38, 22), (290, 27, 19), (310, 58, 11), (282, 41, 2)]
RW = [(205, 8, 17), (220, 12, 30)]


def fig(ci, ri, xr, yr, xticks, ylabel=None, xlabel=None):
    w, l, r = C[ci]
    h, t, b = RW[ri]
    return make_fig(w, h, (l, r, t, b), xr, yr, xticks, ylabel, xlabel)


# panel 1: L09 UV
p1 = fig(0, 0, XR25, (0.021, 10), X25, ylabel=YLAB)
add_legend(p1, [
    ("L09original", series(p1, RO, L09_UV_orig, L09_UV_orig_err, "cross", BLACK, BLACK, 0.6, lw=1.5)),
    ("L09 m(UVcont)=30.0", series(p1, R, L09_UV_m30, L09_UV_m30_err, "circle", BLACK, BLACK, 0.85, joined=False)),
    ("L09 m=29.0", series(p1, R, L09_UV_m29, L09_UV_m29_err, "triangle", BLACK, BLACK, 0.85, size=9, joined=False)),
    ("L09 m=28.0", series(p1, R, L09_UV_m28, L09_UV_m28_err, "square", RED, RED, 0.55, joined=False)),
])

# panel 2: L09 optical
p2 = fig(1, 0, XR25, (0.021, 10), X25)
add_legend(p2, [
    ("L09original", series(p2, RO, L09_OPT_orig, L09_OPT_orig_err, "cross", BLACK, BLACK, 0.6, lw=1.5)),
    ("L09 m(opticalcont)=29.0", series(p2, R, L09_OPT_m29, L09_OPT_m29_err, "circle", BLACK, BLACK, 0.85, joined=False)),
    ("L09 m=28.0", series(p2, R, L09_OPT_m28, L09_OPT_m28_err, "triangle", BLACK, BLACK, 0.85, size=9, joined=False)),
    ("L09 m=27.0", series(p2, R, L09_OPT_m27, L09_OPT_m27_err, "square", RED, RED, 0.55, joined=False)),
])

# panel 3: L10 UV
p3 = fig(2, 0, XR19, (0.01, 40), X19, ylabel=YLAB)
add_legend(p3, [
    ("L10original", series(p3, RO, L10_UV_orig, L10_UV_orig_err, "cross", BLACK, BLACK, 0.6, lw=1.5)),
    ("L10 m(UVcont)=30.0", series(p3, R, L10_UV_m30, L10_UV_m30_err, "circle", DRED, DRED, 0.7)),
    ("L10 m=29.0", series(p3, R, L10_UV_m29, L10_UV_m29_err, "triangle", DRED, DRED, 0.7, size=9)),
    ("L10 m=28.0", series(p3, R, L10_UV_m28, L10_UV_m28_err, "square", RED, RED, 0.55)),
])

# panel 4: L10 optical
p4 = fig(3, 0, XR19, (0.01, 40), X19)
add_legend(p4, [
    ("L10original", series(p4, RO, L10_OPT_orig, L10_OPT_orig_err, "cross", BLACK, BLACK, 0.6, lw=1.5)),
    ("L10 m(opticalcont)=29.0", series(p4, R, L10_OPT_m29, L10_OPT_m29_err, "circle", DRED, DRED, 0.7)),
    ("L10 m=28.0", series(p4, R, L10_OPT_m28, L10_OPT_m28_err, "triangle", DRED, DRED, 0.7, size=9)),
    ("L10 m=27.0", series(p4, R, L10_OPT_m27, L10_OPT_m27_err, "triangle", DRED, DRED, 0.7, size=9, angle=LEFT)),
    ("L10 m=26.0", series(p4, R, L10_OPT_m26, L10_OPT_m26_err, "triangle", DRED, DRED, 0.7, size=9, angle=RIGHT)),
    ("L10 m=25.0", series(p4, R, L10_OPT_m25, L10_OPT_m25_err, "square", RED, RED, 0.55)),
])

# panel 5: L09 Lyman alpha
p5 = fig(0, 1, XR25, (0.021, 10), X25, ylabel=YLAB, xlabel=XLAB)
add_legend(p5, [
    ("L09original", series(p5, RO, L09_LYA_orig, L09_LYA_orig_err, "cross", BLACK, BLACK, 0.9,
                           err_lo=L09_LYA_orig_err_lo, wide=5.0, lw=1.5)),
    ("L09 m(UVcont)=30.0", series(p5, R, L09_LYA_m30, L09_LYA_m30_err, "circle", GREEN, GREEN, 0.6)),
    ("L09 F(Lyα)=5E-19", series(p5, R, L09_LYA_f, L09_LYA_f_err, "square", RED, RED, 0.65,
                                err_lo=L09_LYA_f_err_lo, wide=1.5)),
])

# panel 6: L09 H alpha
p6 = fig(1, 1, XR25, (0.021, 10), X25, xlabel=XLAB)
add_legend(p6, [
    ("L09 m(UVcont)=30.0", series(p6, R, L09_HA_uv30, L09_HA_uv30_err, "cross", BLACK, BLACK, 0.8)),
    ("L09 m(opticalcont)=29.0", series(p6, R, L09_HA_opt29, L09_HA_opt29_err, "circle", GREEN, GREEN, 0.6)),
    ("L09 F(Hα)=2E-19", series(p6, R, L09_HA_f2, L09_HA_f2_err, "circle", BLACK, BLACK, 0.8)),
    ("L09 F=6E-19", series(p6, R, L09_HA_f6, L09_HA_f6_err, "triangle", BLACK, BLACK, 0.8, size=9)),
    ("L09 F=1E-18", series(p6, R, L09_HA_f10, L09_HA_f10_err, "triangle", BLACK, BLACK, 0.8, size=9, angle=LEFT)),
    ("L09 F=3E-18", series(p6, R, L09_HA_f30, L09_HA_f30_err, "triangle", BLACK, BLACK, 0.8, size=9, angle=RIGHT)),
    ("L09 F=1E-17", series(p6, R, L09_HA_f100, L09_HA_f100_err, "square", RED, RED, 0.55)),
])

# panel 7: L10 Lyman alpha
p7 = fig(2, 1, XR19, (0.01, 4.1), X19, ylabel=YLAB, xlabel=XLAB)
add_legend(p7, [
    ("L10original", series(p7, RO, L10_LYA_orig, L10_LYA_orig_err, "cross", BLACK, BLACK, 0.9,
                           wide=6.5, lw=1.5)),
    ("L10 m(UVcont)=30.0", series(p7, R, L10_LYA_m30, L10_LYA_m30_err, "circle", GREEN, GREEN, 0.6)),
    ("L10 F(Lyα)=5E-19", series(p7, R, L10_LYA_f, L10_LYA_f_err, "square", RED, RED, 0.65, wide=2.0)),
])

# panel 8: L10 H alpha
p8 = fig(3, 1, XR19, (0.01, 4.1), X19, xlabel=XLAB)
add_legend(p8, [
    ("L10 m(UVcont)=30.0", series(p8, R, L10_HA_uv30, L10_HA_uv30_err, "cross", BLACK, BLACK, 0.8)),
    ("L10 m(opticalcont)=29.0", series(p8, R, L10_HA_opt29, L10_HA_opt29_err, "circle", GREEN, GREEN, 0.6)),
    ("L10 F(Hα)=2E-19", series(p8, R, L10_HA_f2, L10_HA_f2_err, "circle", DRED, DRED, 0.7)),
    ("L10 F=6E-19", series(p8, R, L10_HA_f6, L10_HA_f6_err, "triangle", DRED, DRED, 0.7, size=9)),
    ("L10 F=1E-18", series(p8, R, L10_HA_f10, L10_HA_f10_err, "square", RED, RED, 0.55)),
])

layout = column(row(p1, p2, p3, p4), row(p5, p6, p7, p8))
open("out.html", "w").write(file_html(layout, INLINE))
